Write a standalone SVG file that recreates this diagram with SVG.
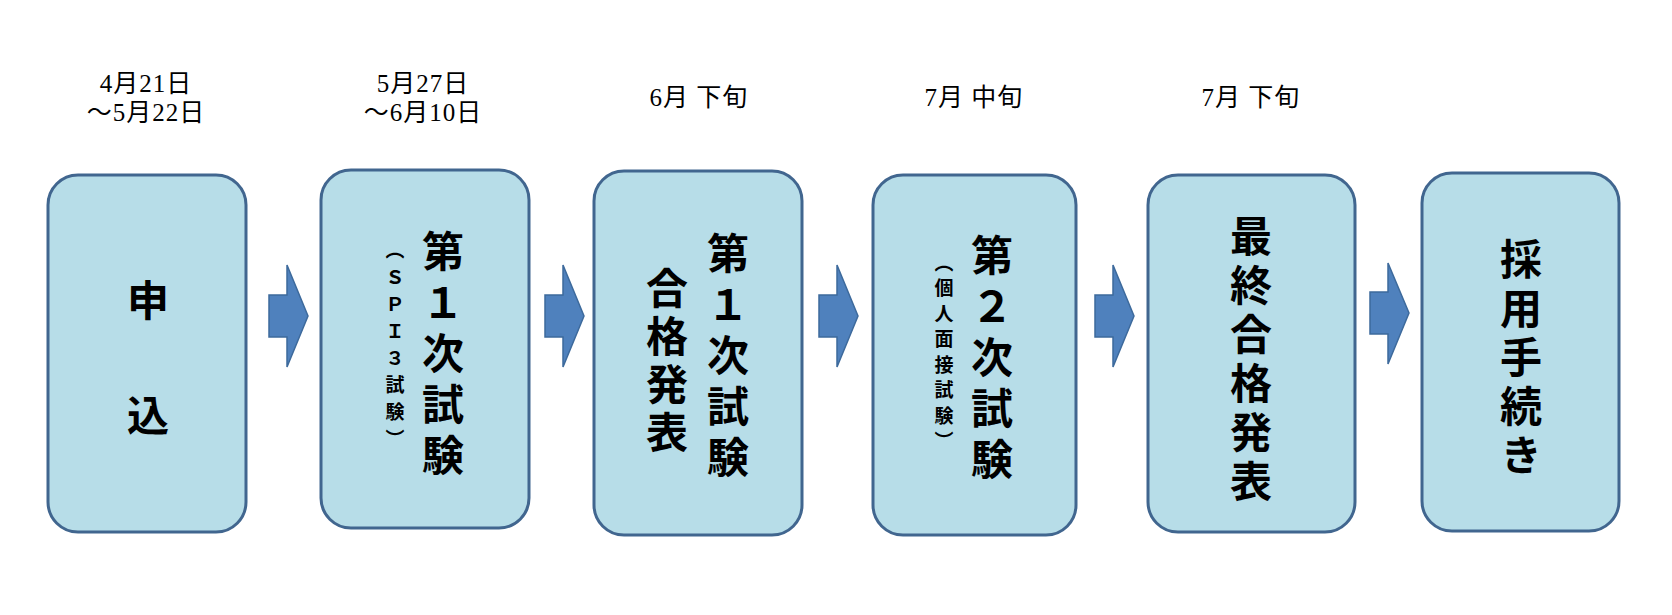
<svg xmlns="http://www.w3.org/2000/svg" width="1672" height="615" viewBox="0 0 1672 615">
<style>
.box{fill:#b7dde8;stroke:#41668f;stroke-width:3}
.arr{fill:#4f81bd;stroke:#3d6a9c;stroke-width:1.5}
.date{font-family:"Liberation Serif","Noto Sans CJK JP",serif;font-size:25px;letter-spacing:1px;fill:#000;text-anchor:middle}
.v{font-family:"Noto Sans CJK JP",sans-serif;font-weight:bold;font-size:42px;fill:#000;writing-mode:vertical-rl;text-orientation:upright}
.s{font-family:"Noto Sans CJK JP",sans-serif;font-weight:bold;font-size:19px;fill:#000;writing-mode:vertical-rl;text-orientation:upright}
</style>
<rect width="1672" height="615" fill="#fff"/>
<g id="dates">
<text class="date" x="146" y="92">4月21日</text>
<text class="date" x="146" y="121">～5月22日</text>
<text class="date" x="423" y="92">5月27日</text>
<text class="date" x="423" y="121">～6月10日</text>
<text class="date" x="699" y="106">6月 下旬</text>
<text class="date" x="974" y="106">7月 中旬</text>
<text class="date" x="1251" y="106">7月 下旬</text>
</g>
<g id="connectors">
<polygon class="arr" points="269,295 287,295 287,265 308,316 287,367 287,337 269,337"/>
<polygon class="arr" points="545,295 563,295 563,265 584,316 563,367 563,337 545,337"/>
<polygon class="arr" points="819,295 837,295 837,265 858,316 837,367 837,337 819,337"/>
<polygon class="arr" points="1095,295 1113,295 1113,265 1134,316 1113,367 1113,337 1095,337"/>
<polygon class="arr" points="1370,292 1388,292 1388,263 1409,313 1388,364 1388,334 1370,334"/>
</g>
<g id="n1"><rect class="box" x="48" y="175" width="198" height="357" rx="30"/>
<text class="v" x="148" y="279" style="letter-spacing:73px">申込</text></g>
<g id="n2"><rect class="box" x="321" y="170" width="208" height="358" rx="30"/>
<text class="v" x="443" y="230" style="letter-spacing:9px">第１次試験</text>
<text class="s" x="395" y="240" style="letter-spacing:8px">（ＳＰＩ３試験）</text></g>
<g id="n3"><rect class="box" x="594" y="171" width="208" height="364" rx="30"/>
<text class="v" x="728" y="232" style="letter-spacing:9px">第１次試験</text>
<text class="v" x="667" y="267" style="letter-spacing:6px">合格発表</text></g>
<g id="n4"><rect class="box" x="873" y="175" width="203" height="360" rx="30"/>
<text class="v" x="992" y="234" style="letter-spacing:9px">第２次試験</text>
<text class="s" x="944" y="253" style="letter-spacing:6.5px">（個人面接試験）</text></g>
<g id="n5"><rect class="box" x="1148" y="175" width="207" height="357" rx="30"/>
<text class="v" x="1251" y="215" style="letter-spacing:7px">最終合格発表</text></g>
<g id="n6"><rect class="box" x="1422" y="173" width="197" height="358" rx="30"/>
<text class="v" x="1521" y="238" style="letter-spacing:7px">採用手続き</text></g>
</svg>
